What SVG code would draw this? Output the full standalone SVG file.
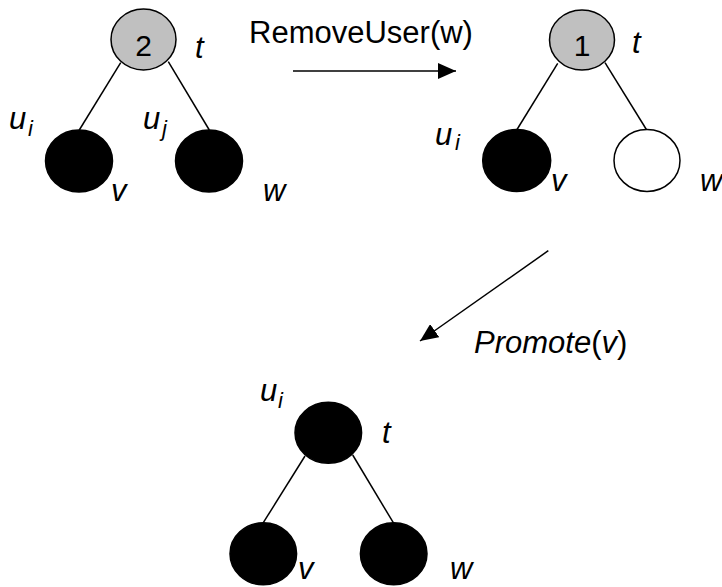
<svg xmlns="http://www.w3.org/2000/svg" width="722" height="587" viewBox="0 0 722 587">
<style>
text{font-family:"Liberation Sans",Arial,sans-serif;fill:#000}
.lbl{font-size:31px;font-style:italic}
.sub{font-size:22px;font-style:italic}
.num{font-size:30px;text-anchor:middle}
.cap{font-size:31px}
.edge{stroke:#000;stroke-width:1.5;fill:none}
.gray{fill:#C0C0C0;stroke:#000;stroke-width:1.5}
.black{fill:#000;stroke:#000;stroke-width:1.5}
.white{fill:#fff;stroke:#000;stroke-width:1.5}
</style>
<defs>
<marker id="ah" markerUnits="userSpaceOnUse" markerWidth="18" markerHeight="16" refX="18" refY="8" orient="auto">
<path d="M0,0 L18,8 L0,16 z" fill="#000"/>
</marker>
</defs>
<g id="connectors">
<line class="edge" x1="120.7" y1="62.7" x2="79.3" y2="130"/>
<line class="edge" x1="168.3" y1="61.7" x2="209.3" y2="130"/>
<line class="edge" x1="557.7" y1="63.3" x2="516.7" y2="130"/>
<line class="edge" x1="605" y1="62.7" x2="646.7" y2="130"/>
<line class="edge" x1="305" y1="456" x2="263.3" y2="522.7"/>
<line class="edge" x1="352.7" y1="455" x2="393.3" y2="522.7"/>
<line class="edge" x1="293" y1="71" x2="456" y2="71" marker-end="url(#ah)"/>
<line class="edge" x1="548.3" y1="250.7" x2="420" y2="341" marker-end="url(#ah)"/>
</g>
<g id="tree1-root"><ellipse class="gray" cx="143.5" cy="39.5" rx="32.5" ry="30.5"/><text class="num" x="143.5" y="55.5">2</text><text class="lbl" x="195" y="58">t</text></g>
<g id="tree1-v"><ellipse class="black" cx="79" cy="161" rx="33.5" ry="31"/><text class="lbl" x="9" y="129">u</text><text class="sub" x="28" y="135.5">i</text><text class="lbl" x="111" y="201">v</text></g>
<g id="tree1-w"><ellipse class="black" cx="209" cy="161" rx="33.5" ry="31"/><text class="lbl" x="143" y="129">u</text><text class="sub" x="162" y="135.5">j</text><text class="lbl" x="263" y="201">w</text></g>
<g id="label-remove"><text class="cap" x="249" y="43" font-size="32">RemoveUser(w)</text></g>
<g id="tree2-root"><ellipse class="gray" cx="582" cy="40" rx="32.5" ry="30"/><text class="num" x="582" y="55.5">1</text><text class="lbl" x="632" y="53">t</text></g>
<g id="tree2-v"><ellipse class="black" cx="516.7" cy="160.5" rx="34" ry="31"/><text class="lbl" x="435" y="145">u</text><text class="sub" x="455" y="150">i</text><text class="lbl" x="551" y="191">v</text></g>
<g id="tree2-w"><ellipse class="white" cx="647" cy="160.5" rx="33" ry="31"/><text class="lbl" x="700" y="191">w</text></g>
<g id="label-promote"><text class="cap" x="474" y="353"><tspan font-style="italic">Promote</tspan>(<tspan font-style="italic">v</tspan>)</text></g>
<g id="tree3-root"><ellipse class="black" cx="328.3" cy="432.8" rx="33.3" ry="30.5"/><text class="lbl" x="260" y="401">u</text><text class="sub" x="278" y="407.5">i</text><text class="lbl" x="382" y="443">t</text></g>
<g id="tree3-v"><ellipse class="black" cx="263.3" cy="553.8" rx="33.3" ry="31"/><text class="lbl" x="298" y="579">v</text></g>
<g id="tree3-w"><ellipse class="black" cx="393.7" cy="553.8" rx="33.3" ry="31"/><text class="lbl" x="450" y="579">w</text></g>
</svg>
